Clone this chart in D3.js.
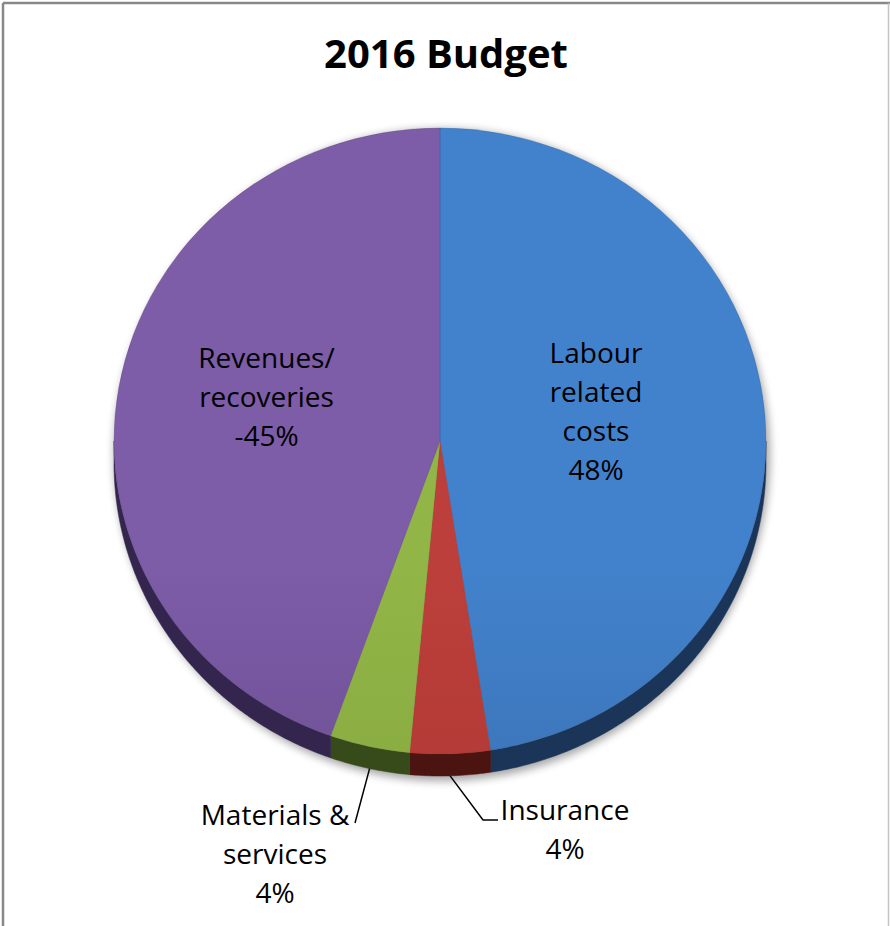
<!DOCTYPE html>
<html>
<head>
<meta charset="utf-8">
<script src="https://cdn.jsdelivr.net/npm/d3@7"></script>
<style>
  html, body { margin: 0; padding: 0; background: #fff; }
  svg { display: block; }
  text { font-family: "Open Sans", Lato, sans-serif; fill: #000; }
</style>
</head>
<body>
<svg id="chart" width="890" height="926"></svg>
<script>
// 2016 budget breakdown (share of total, revenues shown as a negative share)
const categories = ["Labour related costs", "Insurance", "Materials & services", "Revenues/ recoveries"];
const values = [48, 4, 4, -45];
const labelLines = [
  ["Labour", "related", "costs", "48%"],
  ["Insurance", "4%"],
  ["Materials &", "services", "4%"],
  ["Revenues/", "recoveries", "-45%"]
];
const topColors = [["#4282cc", "#32609b"], ["#bc3f3b", "#a3322d"], ["#92b547", "#7c9e39"], ["#7d5ca8", "#5a427a"]];
const sideColors = ["#1b3558", "#4b1411", "#364a1a", "#34254e"];

const W = 890, H = 926;
const cx = 440, cy = 441, rx = 326, ry = 313, depth = 22;
const svg = d3.select("#chart");
const defs = svg.append("defs");

// frame
svg.append("line").attr("x1", 3).attr("y1", 3).attr("x2", 890).attr("y2", 3)
  .attr("stroke", "#888").attr("stroke-width", 2.5);
svg.append("line").attr("x1", 3).attr("y1", 3).attr("x2", 3).attr("y2", H)
  .attr("stroke", "#888").attr("stroke-width", 2.5);
svg.append("line").attr("x1", 888.5).attr("y1", 3).attr("x2", 888.5).attr("y2", H)
  .attr("stroke", "#c4c4c4").attr("stroke-width", 1.5);

svg.append("text").attr("x", 446).attr("y", 68).attr("text-anchor", "middle")
  .style("font-weight", "bold").style("font-size", "40px").text("2016 Budget");

// pie geometry
const pie = d3.pie().sort(null).value(d => Math.abs(d));
const arcs = pie(values);
const pt = (a, dy = 0) => [cx + rx * Math.sin(a), cy - ry * Math.cos(a) + dy];

// soft drop shadow
const blur = defs.append("filter").attr("id", "shadow").attr("x", "-20%").attr("y", "-20%")
  .attr("width", "140%").attr("height", "140%");
blur.append("feGaussianBlur").attr("stdDeviation", 4);
svg.append("ellipse").attr("cx", cx + 2).attr("cy", cy + depth / 2 + 3)
  .attr("rx", rx + 2).attr("ry", ry + depth / 2 + 2)
  .attr("fill", "#000").attr("opacity", 0.35).attr("filter", "url(#shadow)");

// gradients for the top faces
topColors.forEach((c, i) => {
  const g = defs.append("linearGradient").attr("id", "g" + i)
    .attr("gradientUnits", "userSpaceOnUse")
    .attr("x1", 0).attr("y1", cy - ry).attr("x2", 0).attr("y2", cy + ry);
  g.append("stop").attr("offset", 0).attr("stop-color", c[0]);
  g.append("stop").attr("offset", 1).attr("stop-color", c[1]);
});

// side walls: only the front half (angles between PI/2 and 3PI/2) is visible
const line = d3.line();
arcs.forEach((d, i) => {
  const a0 = Math.max(d.startAngle, Math.PI / 2);
  const a1 = Math.min(d.endAngle, 3 * Math.PI / 2);
  if (a1 <= a0) return;
  const n = Math.max(2, Math.ceil((a1 - a0) / 0.01));
  const top = d3.range(n + 1).map(k => pt(a0 + (a1 - a0) * k / n));
  const bottom = top.slice().reverse().map(p => [p[0], p[1] + depth]);
  svg.append("path").attr("d", line(top.concat(bottom)) + "Z")
    .attr("fill", sideColors[i]).attr("stroke", sideColors[i]).attr("stroke-width", 0.5);
});

// top faces: circular arcs squashed into an ellipse
const arc = d3.arc().innerRadius(0).outerRadius(rx);
svg.append("g").attr("transform", `translate(${cx},${cy}) scale(1,${ry / rx})`)
  .selectAll("path").data(arcs).join("path")
  .attr("d", arc).attr("fill", (d, i) => `url(#g${i})`)
  .attr("stroke", (d, i) => topColors[i][1]).attr("stroke-width", 0.3);

// labels
const fs = 28, lh = 39;
function drawLabel(lines, x, yTop) {
  const t = svg.append("text").attr("text-anchor", "middle").style("font-size", fs + "px");
  lines.forEach((s, k) => t.append("tspan").attr("x", x).attr("y", yTop + k * lh).text(s));
}
const mid = d => (d.startAngle + d.endAngle) / 2;

// inside labels
[[0, 0.48, -18], [3, 0.54, -15]].forEach(([i, k, dy]) => {
  const [x, y] = pt(mid(arcs[i])).map((v, j) => j === 0 ? cx + (v - cx) * k : cy + (v - cy) * k);
  const n = labelLines[i].length;
  drawLabel(labelLines[i], x, y + dy - (n - 1) * lh / 2 + fs * 0.35);
});

// outside labels with leader lines
const outside = [
  { i: 1, tx: 565, ty: 820, elbow: [483, 820], end: [498, 820] },
  { i: 2, tx: 275, ty: 825, elbow: [355, 823], end: [355, 823] }
];
outside.forEach(o => {
  const s = pt(mid(arcs[o.i]), depth);
  svg.append("path").attr("d", line([s, o.elbow, o.end]))
    .attr("fill", "none").attr("stroke", "#000").attr("stroke-width", 1.5);
  drawLabel(labelLines[o.i], o.tx, o.ty);
});
</script>
</body>
</html>
